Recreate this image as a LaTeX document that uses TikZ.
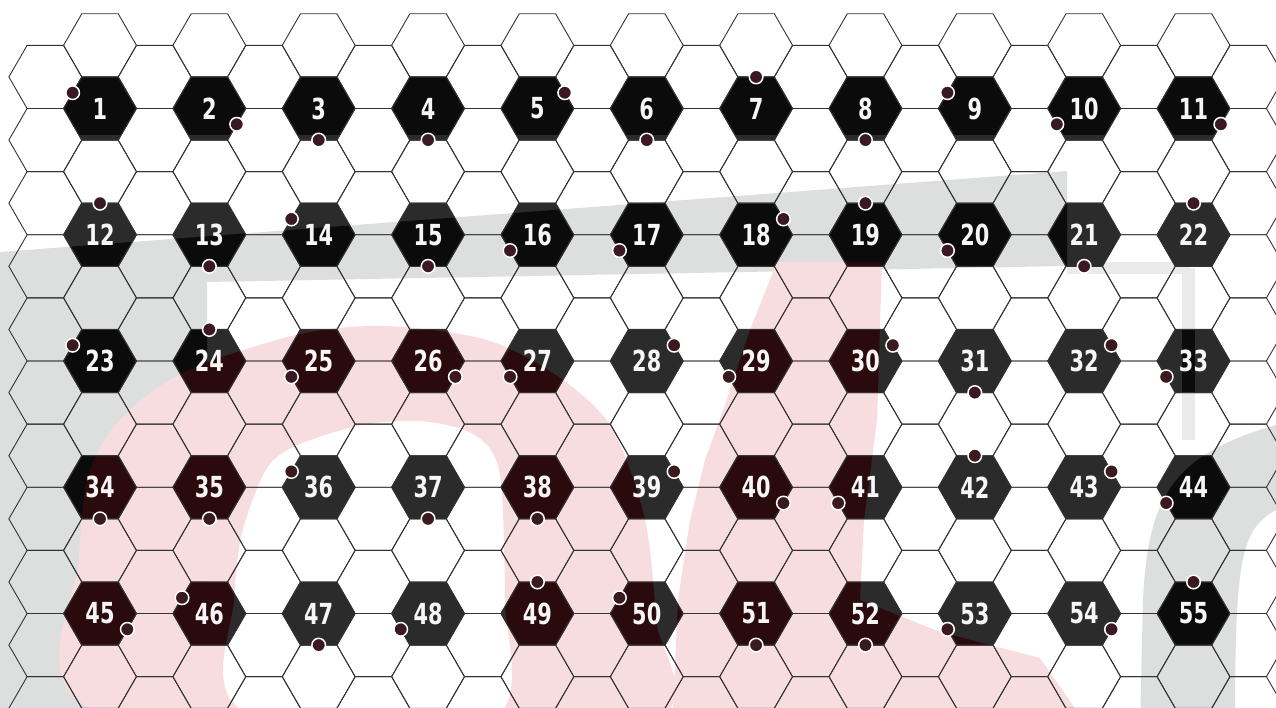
\documentclass[tikz,border=0pt]{standalone}
\usepackage{fontspec}
\newfontfamily\numfont[FakeStretch=0.72]{DejaVu Sans}
\usetikzlibrary{calc}
\definecolor{GridLine}{HTML}{333333}
\definecolor{BgGray}{HTML}{DDDEDE}
\definecolor{BgLight}{HTML}{EAEAEA}
\definecolor{BgPink}{HTML}{F7DDE0}
\definecolor{HexBase}{HTML}{2B2B2B}
\definecolor{HexDark}{HTML}{0B0B0B}
\definecolor{HexRed}{HTML}{2A0A0D}
\definecolor{DotFill}{HTML}{3A1A20}
\definecolor{NumWhite}{HTML}{F7F5F5}
\newcommand{\frameBand}{(0,252) -- (1067,171) -- (1067,266) -- (207,282) -- (207,730) -- (0,730) -- cycle}
\newcommand{\frameBar}{(1182,268) rectangle (1195,440)}
\newcommand{\rightSwoosh}{(1140,730) -- (1143,600) .. controls (1148,500) and (1170,455) .. (1276,425) -- (1276,510) .. controls (1240,530) and (1235,560) .. (1235,730) -- cycle}
\newcommand{\ringShape}{plot[smooth cycle] coordinates {(77,700) (79,560) (87,480) (110,432) (150,393) (200,365) (300,334) (385,326) (487,340) (560,378) (612,428) (645,520) (656,620) (658,720) (370,800)} plot[smooth cycle] coordinates {(231,700) (234,600) (242,533) (267,468) (300,444) (367,424) (430,422) (478,437) (500,475) (505,600) (503,710) (370,780)}}
\newcommand{\strokeShape}{(777,262) -- (882,262) -- (877,420) -- (864,520) -- (860,600) -- (940,632) -- (1040,658) -- (1090,730) -- (672,730) -- (678,600) -- (690,520) -- (705,460) -- (725,405) -- (750,330) -- cycle}
\newcommand{\numHexes}{\foreach \row in {0,...,4} {\foreach \col in {0,...,10} {(100+109.35*\col,108.5+126.26*\row) ++(36.45,0) -- ++(-18.225,31.57) -- ++(-36.45,0) -- ++(-18.225,-31.57) -- ++(18.225,-31.57) -- ++(36.45,0) -- cycle}}}
\tikzset{
  gridline/.style={draw=GridLine, line width=0.9pt},
  numlabel/.style={text=NumWhite, inner sep=0pt, font={\numfont\bfseries\fontsize{29}{29}\selectfont}},
  pindot/.style={fill=DotFill, draw=white, line width=1.5pt}
}
\begin{document}
\begin{tikzpicture}[x=1pt,y=-1pt]
  \useasboundingbox (0,0) rectangle (1276,708);
  \clip (0,0) rectangle (1276,708);
  \fill[white] (0,0) rectangle (1276,708);
  \fill[BgGray] \frameBand;
  \fill[BgLight] (1067,262) rectangle (1190,274);
  \fill[BgLight] \frameBar;
  \fill[BgGray] \rightSwoosh;
  \fill[BgPink, even odd rule] \ringShape;
  \fill[BgPink] \strokeShape;

  \begin{scope}
    \clip \numHexes;
    \fill[HexBase] (0,0) rectangle (1276,708);
    \fill[HexDark] (0,0) rectangle (1276,135.5);
    \fill[HexDark] \frameBand;
    \fill[HexDark] \frameBar;
    \fill[HexDark] \rightSwoosh;
    \fill[HexRed, even odd rule] \ringShape;
    \fill[HexRed] \strokeShape;
  \end{scope}

  \foreach \k in {-1,...,21} {
    \pgfmathsetmacro{\cx}{100+54.675*\k}
    \pgfmathsetmacro{\cy}{isodd(\k) ? 76.93 : 45.37}
    \foreach \m in {0,...,10}
      \draw[gridline] (\cx,\cy+63.13*\m) ++(36.45,0) -- ++(-18.225,31.57) -- ++(-36.45,0) -- ++(-18.225,-31.57) -- ++(18.225,-31.57) -- ++(36.45,0) -- cycle;
  }

  \foreach \row in {0,...,4}
    \foreach \col in {0,...,10} {
      \pgfmathtruncatemacro{\n}{11*\row+\col+1}
      \node[numlabel] (h\n) at (100+109.35*\col,108.5+126.26*\row) {\n};
    }

  \foreach \n/\a in {1/150, 2/330, 3/270, 4/270, 5/30, 6/270, 7/90, 8/270, 9/150, 10/210, 11/330,
      12/90, 13/270, 14/150, 15/270, 16/210, 17/210, 18/30, 19/90, 20/210, 21/270, 22/90,
      23/150, 24/90, 25/210, 26/330, 27/210, 28/30, 29/210, 30/30, 31/270, 32/30, 33/210,
      34/270, 35/270, 36/150, 37/270, 38/270, 39/30, 40/330, 41/210, 42/90, 43/30, 44/210,
      45/330, 46/150, 47/270, 48/210, 49/90, 50/150, 51/270, 52/270, 53/210, 54/330, 55/90}
    \draw[pindot] ($(h\n)+(-\a:31.57)$) circle (6.8pt);
\end{tikzpicture}
\end{document}
